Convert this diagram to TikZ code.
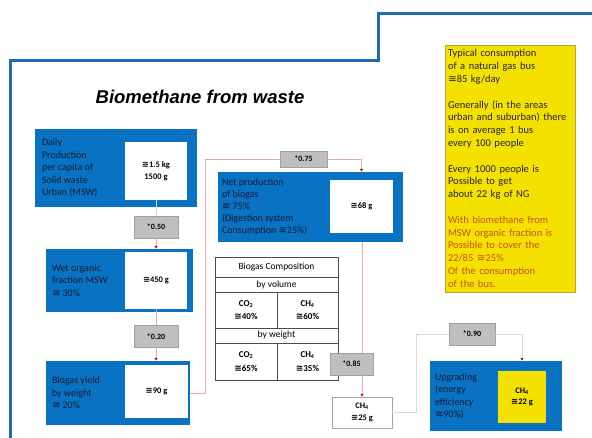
\documentclass[tikz,border=0pt]{standalone}
\usepackage{fontspec}
\setmainfont{Carlito}
\newfontfamily\titlefont{Liberation Sans}
\newfontfamily\symfont{DejaVu Sans}
\newcommand{\apx}{{\symfont\char"2245}}
\usetikzlibrary{arrows.meta}

\definecolor{boxblue}{HTML}{0A72C2}
\definecolor{frameblue}{HTML}{1F6BB0}
\definecolor{noteyellow}{HTML}{F5E100}
\definecolor{linkpink}{HTML}{E9A3AE}
\definecolor{notered}{HTML}{C8501A}
\definecolor{stageink}{HTML}{141C33}

\begin{document}
\begin{tikzpicture}[
    x=1pt, y=-1pt,
    >={Latex[length=3pt,width=3.5pt,color=red!80!black]},
    stage/.style={
        fill=boxblue,
        inner sep=0pt
    },
    value/.style={
        fill=white,
        align=center,
        inner sep=0pt,
        font=\fontsize{8.5}{11.5}\selectfont\bfseries
    },
    stagetext/.style={
        anchor=west,
        align=left,
        inner sep=0pt,
        text=stageink,
        font=\fontsize{10}{12.5}\selectfont
    },
    factor/.style={
        draw=gray!75,
        fill=gray!50,
        minimum width=44pt,
        minimum height=22pt,
        inner sep=0pt,
        font=\fontsize{8}{9}\selectfont\bfseries
    },
    cell/.style={
        draw=black!70,
        thin,
        inner sep=0pt,
        align=center,
        font=\fontsize{9.5}{11}\selectfont
    },
    gas/.style={
        cell,
        font=\fontsize{9}{13.5}\selectfont\bfseries
    },
    link/.style={draw=linkpink, line width=0.8pt},
    greylink/.style={draw=gray!30, line width=0.8pt},
    note/.style={
        draw=olive!70,
        fill=noteyellow,
        align=left,
        text width=124pt,
        inner xsep=3pt,
        minimum height=247pt,
        text=black!85,
        font=\fontsize{10.5}{12.8}\selectfont
    }
]
\useasboundingbox (0,0) rectangle (592,438);

% frame and title
\draw[frameblue, line width=3pt] (10,440) -- (10,61) -- (378,61) -- (378,14) -- (594,14);
\node[font=\titlefont\bfseries\itshape\fontsize{18.5}{21}\selectfont] (title) at (200,97) {Biomethane from waste};

% left column
\node[stage, minimum width=162pt, minimum height=78pt] (msw) at (116,168) {};
\node[value, minimum width=62pt, minimum height=58pt] (mswval) at (156,171) {\apx1.5 kg\\1500 g};
\node[stagetext] at ([xshift=7pt]msw.west) {Daily\\Production\\per capita of\\Solid waste\\Urban (MSW)};

\node[factor] (f50) at (156,227) {*0.50};

\node[stage, minimum width=147pt, minimum height=63pt] (wet) at (119.5,280.5) {};
\node[value, minimum width=62pt, minimum height=57pt] (wetval) at (156,280.5) {\apx450 g};
\node[stagetext] at ([xshift=6pt]wet.west) {Wet organic\\fraction MSW\\\apx{} 30\%};

\node[factor] (f20) at (156,336.5) {*0.20};

\node[stage, minimum width=144pt, minimum height=64pt] (yield) at (118,393) {};
\node[value, minimum width=63pt, minimum height=53pt] (yieldval) at (156.5,391.5) {\apx90 g};
\node[stagetext] at ([xshift=6pt]yield.west) {Biogas yield\\by weight\\\apx{} 20\%};

% middle column
\node[factor, minimum width=47pt, minimum height=16pt] (f75) at (303.5,159) {*0.75};

\node[stage, minimum width=185pt, minimum height=70pt] (net) at (310.5,207) {};
\node[value, minimum width=63pt, minimum height=53pt] (netval) at (361.5,206.5) {\apx68 g};
\node[stagetext, font=\fontsize{10}{12}\selectfont] at ([xshift=4pt]net.west) {Net production\\of biogas\\\apx{} 75\%\\(Digestion system\\Consumption \apx25\%)};

% biogas composition table
\node[cell, minimum width=123pt, minimum height=20pt] (comp) at (276.5,267) {Biogas Composition};
\node[cell, minimum width=123pt, minimum height=15pt] (vol) at (276.5,284.5) {by volume};
\node[gas, minimum width=62pt, minimum height=36pt] (vco2) at (246,310) {CO\textsubscript{2}\\\apx40\%};
\node[gas, minimum width=61pt, minimum height=36pt] (vch4) at (307.5,310) {CH\textsubscript{4}\\\apx60\%};
\node[cell, minimum width=123pt, minimum height=15pt] (wgt) at (276.5,335.5) {by weight};
\node[gas, minimum width=62pt, minimum height=37pt] (wco2) at (246,361.5) {CO\textsubscript{2}\\\apx65\%};
\node[gas, minimum width=61pt, minimum height=37pt] (wch4) at (307.5,361.5) {CH\textsubscript{4}\\\apx35\%};

\node[factor, minimum width=43pt] (f85) at (351.5,364) {*0.85};

\node[gas, draw=gray!70, fill=white, minimum width=60pt, minimum height=31pt, font=\fontsize{8.5}{12}\selectfont\bfseries] (ch4) at (362,412.5) {CH\textsubscript{4}\\\apx25 g};

% right column
\node[factor, minimum width=46pt] (f90) at (472,334) {*0.90};

\node[stage, minimum width=132pt, minimum height=70pt] (up) at (496,396) {};
\node[value, fill=noteyellow, minimum width=48pt, minimum height=52pt] (upval) at (522,397) {CH\textsubscript{4}\\\apx22 g};
\node[stagetext] at ([xshift=5pt]up.west) {Upgrading\\(energy\\efficiency\\\apx90\%)};

\node[note] (bus) at (510,168.5) {
Typical consumption\\
of a natural gas bus\\
\apx85 kg/day\\[12.8pt]
Generally (in the areas\\
urban and suburban) there\\
is on average 1 bus\\
every 100 people\\[12.8pt]
Every 1000 people is\\
Possible to get\\
about 22 kg of NG\\[12.8pt]
\textcolor{notered}{With biomethane from}\\
\textcolor{notered}{MSW organic fraction is}\\
\textcolor{notered}{Possible to cover the}\\
\textcolor{notered}{22/85 \apx25\%}\\
\textcolor{notered}{Of the consumption}\\
\textcolor{notered}{of the bus.}
};

% connectors
\draw[greylink] (mswval.south) -- (f50.north);
\draw[link, ->] (f50.south) -- (wet.north -| f50.south);
\draw[link] (wetval.south) -- (f20.north);
\draw[link, ->] (f20.south) -- (yield.north -| f20.south);
\draw[link] (yield.east) -- ++(15,0) |- (f75.west);
\draw[link, ->] (f75.east) -| (netval.north |- net.north);
\draw[link] (ch4.north |- net.south) -- (ch4.north |- f85.north);
\draw[link, ->] (ch4.north |- f85.south) -- (ch4.north);
\draw[greylink] (ch4.east) -- ++(24,0) |- (f90.west);
\draw[greylink, ->] (f90.east) -| (upval.north |- up.north);

\end{tikzpicture}
\end{document}
